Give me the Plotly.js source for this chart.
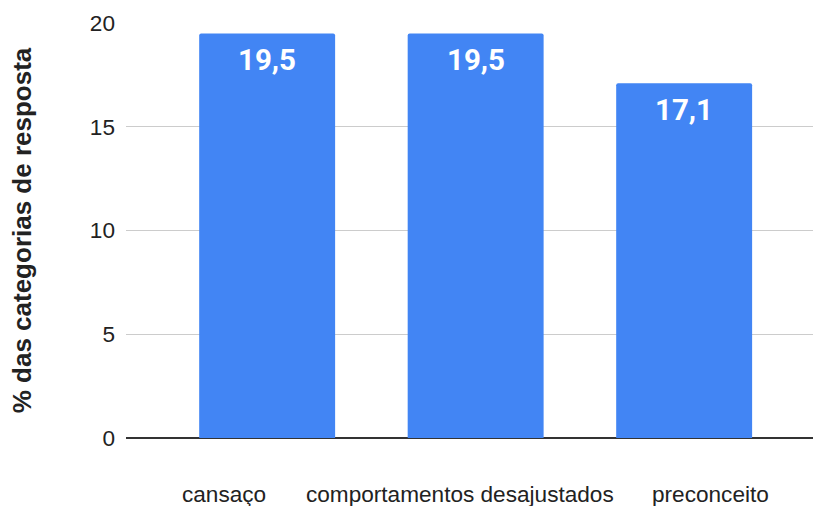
<!DOCTYPE html>
<html>
<head>
<meta charset="utf-8">
<script src="https://cdn.plot.ly/plotly-3.0.1.min.js"></script>
<style>html,body{margin:0;padding:0;background:#fff;}#chart{width:813px;height:506px;}</style>
</head>
<body>
<div id="chart"></div>
<script>
const categories = ["cansaço", "comportamentos desajustados", "preconceito"];
const values = [19.5, 19.5, 17.1];
const yTicks = [0, 5, 10, 15, 20];

const trace = {
  type: 'bar',
  x: categories,
  y: values,
  width: 0.652,
  marker: {color: '#4285F4', cornerradius: 2},
  hoverinfo: 'none'
};

// value labels inside the bars
const valueLabels = categories.map((c, i) => ({
  x: c, y: values[i], xref: 'x', yref: 'y',
  text: values[i].toFixed(1).replace('.', ','),
  showarrow: false, yanchor: 'top', xanchor: 'center', yshift: -8,
  font: {family: 'Roboto, sans-serif', size: 29.5, color: '#ffffff', weight: 'bold'}
}));

// category labels (spread out horizontally as in the original layout)
const labelXShift = [-43.5, -16, 26.5];
const categoryLabels = categories.map((c, i) => ({
  x: c, y: 0, xref: 'x', yref: 'y',
  text: c,
  showarrow: false, yanchor: 'top', xanchor: 'center',
  xshift: labelXShift[i], yshift: -42,
  font: {family: '"Liberation Sans", Arial, sans-serif', size: 22.6, color: '#222222'}
}));

const layout = {
  width: 813, height: 506,
  margin: {l: 126, r: 0, t: 22.7, b: 68.3},
  paper_bgcolor: '#ffffff', plot_bgcolor: '#ffffff',
  separators: ',.',
  showlegend: false,
  annotations: valueLabels.concat(categoryLabels),
  font: {family: '"Liberation Sans", Arial, sans-serif', color: '#222222'},
  xaxis: {
    type: 'category',
    range: [-0.677, 2.618],
    showgrid: false, zeroline: false, showline: false,
    ticks: '',
    showticklabels: false
  },
  yaxis: {
    range: [0, 20],
    tickvals: yTicks,
    ticktext: yTicks.map(String),
    showgrid: true, gridcolor: '#cccccc', gridwidth: 1.3,
    zeroline: true, zerolinecolor: '#333333', zerolinewidth: 1.6,
    showline: false, ticks: '',
    tickfont: {size: 22.6, color: '#222222'},
    ticklabelstandoff: 10,
    title: {text: '% das categorias de resposta', font: {size: 26, weight: 'bold', color: '#222222'}, standoff: 50}
  }
};

Plotly.newPlot('chart', [trace], layout, {displayModeBar: false, staticPlot: true});
</script>
</body>
</html>
